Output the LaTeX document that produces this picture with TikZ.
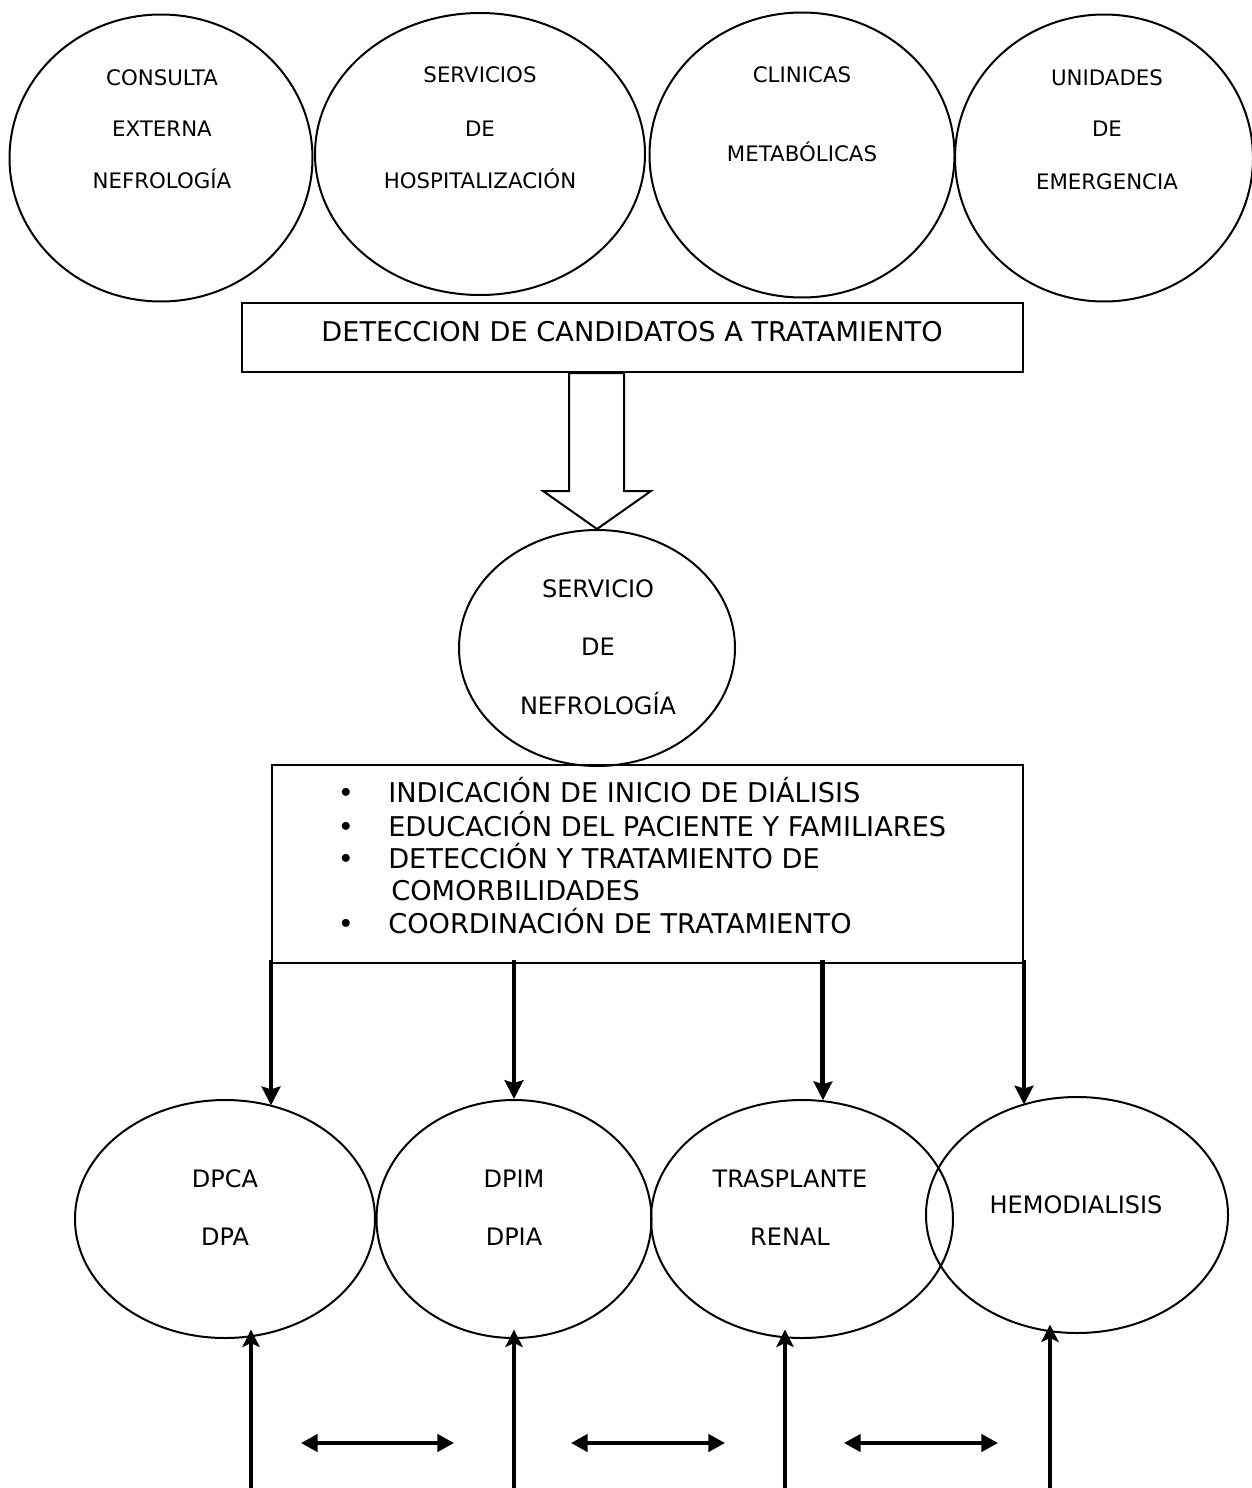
\documentclass[tikz,border=0pt]{standalone}
\usepackage{fontspec}
\setmainfont{DejaVu Sans}
\usepackage{tikz}
\usetikzlibrary{shapes.geometric,arrows.meta,calc}

\tikzset{
  ovalo/.style={draw, ellipse, line width=1.5pt, inner sep=0pt},
  caja/.style={draw, rectangle, line width=1.5pt, inner sep=0pt},
  txtsup/.style={anchor=base, inner sep=0.75pt, font=\fontsize{16}{19}\selectfont},
  txtinf/.style={anchor=base, inner sep=0.75pt, font=\fontsize{18}{22}\selectfont},
  txtcaja/.style={anchor=base, inner sep=0.75pt, font=\fontsize{20.4}{24}\selectfont},
  flechagruesa/.style={line width=3.7pt, shorten <=-3pt, -{Stealth[length=14pt,width=14pt,inset=2pt]}},
  flechasube/.style={line width=2.3pt, shorten >=-7pt, -{Stealth[length=13pt,width=13pt,inset=3pt]}},
  flechados/.style={line width=2.6pt, {Triangle[length=12.5pt,width=13pt]}-{Triangle[length=12.5pt,width=13pt]}},
}

\begin{document}
\begin{tikzpicture}[x=0.75pt,y=0.75pt,yscale=-1,xscale=1]
  \useasboundingbox (0,0) rectangle (1252,1488);

  %Shape: Ellipse (top row)
  \node [ovalo, minimum width=227.25pt, minimum height=215.25pt] (e1) at (161,158) {};
  \node [ovalo, minimum width=247.5pt, minimum height=211.5pt] (e2) at (480,154) {};
  \node [ovalo, minimum width=228.75pt, minimum height=213.75pt] (e3) at (802,155) {};
  \node [ovalo, minimum width=223.5pt, minimum height=215.25pt] (e4) at (1104,158) {};

  % Text Node
  \draw (162,85) node [txtsup] (t1a) {CONSULTA};
  \draw (162,136) node [txtsup] (t1b) {EXTERNA};
  \draw (162,188) node [txtsup] (t1c) {NEFROLOGÍA};
  % Text Node
  \draw (480,83) node [txtsup] (t2a) {SERVICIOS};
  \draw (480,136) node [txtsup] (t2b) {DE};
  \draw (480,188) node [txtsup] (t2c) {HOSPITALIZACIÓN};
  % Text Node
  \draw (802,83) node [txtsup] (t3a) {CLINICAS};
  \draw (802,161) node [txtsup] (t3b) {METABÓLICAS};
  % Text Node
  \draw (1107,85) node [txtsup] (t4a) {UNIDADES};
  \draw (1107,137) node [txtsup] (t4b) {DE};
  \draw (1107,189) node [txtsup] (t4c) {EMERGENCIA};

  %Shape: Rectangle
  \node [caja, minimum width=585.75pt, minimum height=51.75pt] (det) at (632.5,337.5) {};
  % Text Node
  \draw (632,341) node [txtcaja] (tdet) {DETECCION DE CANDIDATOS A TRATAMIENTO};

  %Shape: Ellipse
  \node [ovalo, minimum width=207pt, minimum height=177pt] (nef) at (597,648) {};
  % Text Node
  \draw (598,597) node [txtinf] (tn1) {SERVICIO};
  \draw (598,655) node [txtinf] (tn2) {DE};
  \draw (598,714) node [txtinf] (tn3) {NEFROLOGÍA};

  %Down Arrow (hollow)
  \coordinate (fa) at (det.south -| nef.north);
  \draw [line width=1.5pt, fill=white] ($(fa)+(-28,0)$) -- ($(fa)+(-28,118)$) -- ($(fa)+(-54,118)$) -- (nef.north) -- ($(fa)+(54,118)$) -- ($(fa)+(27,118)$) -- ($(fa)+(27,0)$) -- cycle ;

  %Shape: Rectangle
  \node [caja, minimum width=563.25pt, minimum height=148.5pt] (lista) at (647.5,864) {};
  % Text Node
  \draw (346,802) node [txtcaja] (b1) {•};
  \draw (387,802) node [txtcaja, anchor=base west] (l1) {INDICACIÓN DE INICIO DE DIÁLISIS};
  \draw (346,836) node [txtcaja] (b2) {•};
  \draw (387,836) node [txtcaja, anchor=base west] (l2) {EDUCACIÓN DEL PACIENTE Y FAMILIARES};
  \draw (346,868) node [txtcaja] (b3) {•};
  \draw (387,868) node [txtcaja, anchor=base west] (l3) {DETECCIÓN Y TRATAMIENTO DE};
  \draw (390,900) node [txtcaja, anchor=base west] (l4) {COMORBILIDADES};
  \draw (346,933) node [txtcaja] (b4) {•};
  \draw (387,933) node [txtcaja, anchor=base west] (l5) {COORDINACIÓN DE TRATAMIENTO};

  %Shape: Ellipse (bottom row)
  \node [ovalo, minimum width=225pt, minimum height=178.5pt] (f1) at (225,1219) {};
  \node [ovalo, minimum width=206.25pt, minimum height=178.5pt] (f2) at (514,1219) {};
  \node [ovalo, minimum width=226.5pt, minimum height=178.5pt] (f3) at (802,1219) {};
  \node [ovalo, minimum width=226.5pt, minimum height=177pt] (f4) at (1077,1215) {};

  % Text Node
  \draw (225,1187) node [txtinf] (tf1a) {DPCA};
  \draw (225,1245) node [txtinf] (tf1b) {DPA};
  \draw (514,1187) node [txtinf] (tf2a) {DPIM};
  \draw (514,1245) node [txtinf] (tf2b) {DPIA};
  \draw (790,1187) node [txtinf] (tf3a) {TRASPLANTE};
  \draw (790,1245) node [txtinf] (tf3b) {RENAL};
  \draw (1076,1213) node [txtinf] (tf4a) {HEMODIALISIS};

  %Straight Lines (down)
  \draw [flechagruesa] (lista.south west) -- (lista.south west |- f1.67) ;
  \draw [flechagruesa] (lista.south -| f2.north) -- (f2.north) ;
  \draw [flechagruesa] (lista.south -| f3.80) -- (f3.80) ;
  \draw [flechagruesa] (lista.south east) -- (lista.south east |- f4.117) ;

  %Straight Lines (up)
  \coordinate (u1) at (251,1488);
  \coordinate (u2) at (514,1488);
  \coordinate (u3) at (785,1488);
  \coordinate (u4) at (1050,1488);
  \draw [flechasube] (u1) -- (u1 |- f1.south) ;
  \draw [flechasube] (u2) -- (u2 |- f2.south) ;
  \draw [flechasube] (u3) -- (u3 |- f3.south) ;
  \draw [flechasube] (u4) -- (u4 |- f4.south) ;

  %Straight Lines (both ways)
  \coordinate (h1l) at (301,1443);
  \coordinate (h1r) at (454,1443);
  \coordinate (h2l) at (571,1443);
  \coordinate (h2r) at (725,1443);
  \coordinate (h3l) at (844,1443);
  \coordinate (h3r) at (998,1443);
  \draw [flechados] (h1l) -- (h1r) ;
  \draw [flechados] (h2l) -- (h2r) ;
  \draw [flechados] (h3l) -- (h3r) ;
\end{tikzpicture}
\end{document}
